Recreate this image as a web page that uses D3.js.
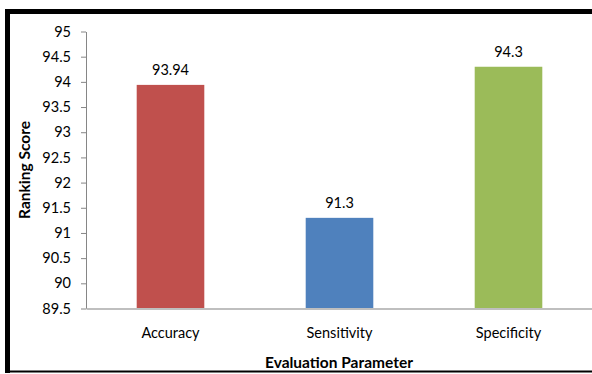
<!DOCTYPE html>
<html>
<head>
<meta charset="utf-8">
<script src="https://cdn.jsdelivr.net/npm/d3@7/dist/d3.min.js"></script>
<style>
  html, body { margin: 0; padding: 0; background: #fff; }
  svg { display: block; }
  text { font-family: Lato, "Open Sans", sans-serif; fill: #000; }
</style>
</head>
<body>
<svg id="chart" width="592" height="374"></svg>
<script>
// Ranking scores per evaluation parameter
const categories = ["Accuracy", "Sensitivity", "Specificity"];
const scores = [93.94, 91.3, 94.3];
const barColors = ["#C0504D", "#4F81BD", "#9BBB59"];
const yTicks = [89.5, 90, 90.5, 91, 91.5, 92, 92.5, 93, 93.5, 94, 94.5, 95];
const xTitle = "Evaluation Parameter";
const yTitle = "Ranking Score";

const svg = d3.select("#chart");

// Frame around the chart area
svg.append("rect").attr("x", 5).attr("y", 9).attr("width", 5).attr("height", 364).attr("fill", "#000");
svg.append("rect").attr("x", 5).attr("y", 9).attr("width", 587).attr("height", 5).attr("fill", "#000");
svg.append("rect").attr("x", 5).attr("y", 370.5).attr("width", 587).attr("height", 2).attr("fill", "#000");

const plot = { left: 86, right: 593, top: 31.5, bottom: 308.5 };

const x = d3.scaleBand()
  .domain(categories)
  .range([plot.left, plot.right])
  .paddingInner(0.6)
  .paddingOuter(0.3);

const y = d3.scaleLinear()
  .domain([89.5, 95])
  .range([plot.bottom, plot.top]);

// Bars
svg.append("g").selectAll("rect")
  .data(categories)
  .join("rect")
  .attr("x", d => x(d))
  .attr("width", x.bandwidth())
  .attr("y", (d, i) => y(scores[i]))
  .attr("height", (d, i) => y(89.5) - y(scores[i]))
  .attr("fill", (d, i) => barColors[i]);

// Value labels
svg.append("g").selectAll("text")
  .data(categories)
  .join("text")
  .attr("x", d => x(d) + x.bandwidth() / 2)
  .attr("y", (d, i) => y(scores[i]) - 10)
  .attr("text-anchor", "middle")
  .style("font-size", "14.5px")
  .text((d, i) => scores[i]);

// Y axis
const yAxis = svg.append("g")
  .attr("transform", `translate(${plot.left},0)`)
  .call(d3.axisLeft(y).tickValues(yTicks).tickFormat(d3.format("")).tickSize(5).tickSizeOuter(0).tickPadding(10));
yAxis.select(".domain").attr("stroke", "#868686");
yAxis.selectAll(".tick line").attr("stroke", "#868686");
yAxis.selectAll(".tick text").style("font-size", "14.5px").style("font-family", "Lato, sans-serif").attr("fill", "#000");

// X axis
const xAxis = svg.append("g")
  .attr("transform", `translate(0,${plot.bottom})`)
  .call(d3.axisBottom(x).tickSize(0).tickPadding(19));
xAxis.select(".domain").attr("stroke", "#BFBFBF").attr("stroke-width", 2);
xAxis.selectAll(".tick text").style("font-size", "14.5px").style("font-family", "Lato, sans-serif").attr("fill", "#000");

// Axis titles
svg.append("text")
  .attr("x", (plot.left + plot.right) / 2 - 0.5)
  .attr("y", 368)
  .attr("text-anchor", "middle")
  .style("font-size", "15.5px")
  .style("font-weight", "bold")
  .text(xTitle);

svg.append("text")
  .attr("transform", "translate(30,170) rotate(-90)")
  .attr("text-anchor", "middle")
  .style("font-size", "15.5px")
  .style("font-weight", "bold")
  .text(yTitle);
</script>
</body>
</html>
